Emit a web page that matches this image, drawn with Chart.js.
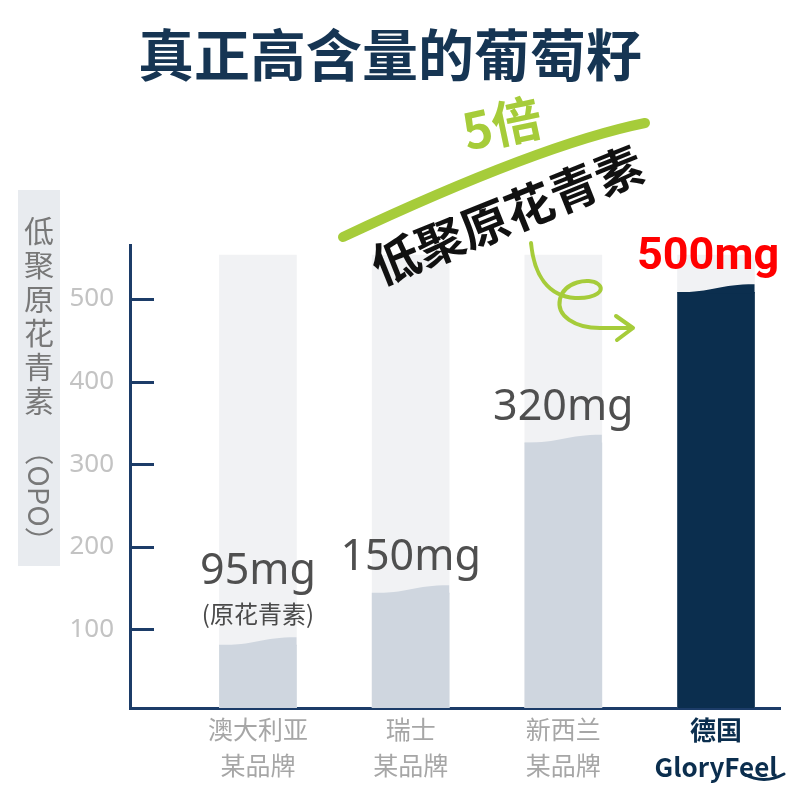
<!DOCTYPE html>
<html>
<head>
<meta charset="utf-8">
<script src="https://cdn.jsdelivr.net/npm/chart.js@4.4.1/dist/chart.umd.min.js"></script>
<style>
html, body { margin: 0; padding: 0; background: #fff; }
</style>
</head>
<body>
<canvas id="chart" width="800" height="800"></canvas>
<script>
// brands along the bottom, two lines each
const categories = [["澳大利亚", "某品牌"], ["瑞士", "某品牌"], ["新西兰", "某品牌"], ["德国", "GloryFeel"]];
// bar heights as drawn (left edge of the wavy top)
const values = [81, 144, 326, 508];
const valueLabels = ["95mg", "150mg", "320mg", "500mg"];
const subLabels = ["(原花青素)", "", "", ""];
// light grey column behind every bar
const ceiling = [553, 553, 553, 553];
const yTicks = [100, 200, 300, 400, 500];

const navy = "#0b2e4e";
const axisNavy = "#1c3c68";
const green = "#a6cc3a";
const barColors = ["#cfd6df", "#cfd6df", "#cfd6df", navy];
const cjk = "'Noto Sans CJK SC', 'Noto Sans', sans-serif";

const decor = {
    id: "decor",

    beforeDraw(chart) {
        const ctx = chart.ctx;
        ctx.save();
        ctx.fillStyle = "#fff";
        ctx.fillRect(0, 0, chart.width, chart.height);

        // vertical axis title
        ctx.fillStyle = "#e8ebef";
        ctx.fillRect(18, 190, 42, 376);
        ctx.fillStyle = "#787878";
        ctx.font = "30px " + cjk;
        ctx.textAlign = "center";
        ctx.textBaseline = "middle";
        "低聚原花青素".split("").forEach((ch, i) => {
            ctx.fillText(ch, 39, 231 + i * 34);
        });
        ctx.translate(39, 496);
        ctx.rotate(Math.PI / 2);
        ctx.font = "29px " + cjk;
        ctx.fillText("（OPO）", 0, 0);
        ctx.restore();
    },

    afterDatasetDraw(chart, args) {
        if (args.index !== 0) return;
        const ctx = chart.ctx;
        ctx.save();
        args.meta.data.forEach((el, i) => {
            const l = el.x - el.width / 2;
            const r = el.x + el.width / 2;
            const w = el.width;
            ctx.fillStyle = barColors[i];
            ctx.beginPath();
            ctx.moveTo(l, el.y + 1);
            ctx.lineTo(l, el.y);
            ctx.bezierCurveTo(l + w * 0.45, el.y, l + w * 0.55, el.y - 8, r, el.y - 8);
            ctx.lineTo(r, el.y + 1);
            ctx.closePath();
            ctx.fill();
        });
        ctx.restore();
    },

    afterDraw(chart) {
        const ctx = chart.ctx;
        const area = chart.chartArea;
        const yScale = chart.scales.y;
        ctx.save();

        // tick marks pointing into the plot
        ctx.strokeStyle = axisNavy;
        ctx.lineWidth = 3;
        yTicks.forEach(v => {
            const y = Math.round(yScale.getPixelForValue(v)) + 0.5;
            ctx.beginPath();
            ctx.moveTo(area.left, y);
            ctx.lineTo(area.left + 24, y);
            ctx.stroke();
        });

        // value labels over the bars
        const meta = chart.getDatasetMeta(0);
        ctx.textAlign = "center";
        ctx.textBaseline = "alphabetic";
        meta.data.forEach((el, i) => {
            let base = el.y - 23;
            if (subLabels[i]) {
                ctx.fillStyle = "#4a4a4a";
                ctx.font = "24px " + cjk;
                ctx.fillText(subLabels[i], el.x, base + 1);
                base -= 38;
            }
            if (i === values.length - 1) {
                ctx.fillStyle = "#ff0000";
                ctx.font = "bold 45px Roboto, 'Liberation Sans', sans-serif";
                ctx.fillText(valueLabels[i], el.x - 8, base);
            } else {
                ctx.fillStyle = "#4f4f4f";
                ctx.font = "43px 'Noto Sans', sans-serif";
                ctx.fillText(valueLabels[i], el.x, base);
            }
        });

        // green brush stroke
        ctx.strokeStyle = green;
        ctx.lineCap = "round";
        ctx.lineWidth = 10;
        ctx.beginPath();
        ctx.moveTo(343, 237);
        ctx.quadraticCurveTo(541, 144, 645, 123);
        ctx.stroke();

        // "5倍"
        ctx.save();
        ctx.translate(502, 124);
        ctx.rotate(-12 * Math.PI / 180);
        ctx.fillStyle = green;
        ctx.font = "bold 50px " + cjk;
        ctx.textAlign = "center";
        ctx.textBaseline = "middle";
        ctx.fillText("5倍", 0, 0);
        ctx.restore();

        // tilted caption
        ctx.save();
        ctx.translate(507, 215);
        ctx.rotate(Math.atan2(-94, 234));
        ctx.fillStyle = "#111";
        ctx.font = "bold 48px " + cjk;
        ctx.textAlign = "center";
        ctx.textBaseline = "middle";
        ctx.fillText("低聚原花青素", 0, 0);
        ctx.restore();

        // curly arrow
        ctx.strokeStyle = green;
        ctx.lineWidth = 4;
        ctx.lineJoin = "round";
        ctx.beginPath();
        ctx.moveTo(531, 243);
        ctx.bezierCurveTo(534, 275, 548, 296, 575, 298);
        ctx.bezierCurveTo(596, 299, 606, 290, 598, 284);
        ctx.bezierCurveTo(589, 277, 564, 282, 560, 299);
        ctx.bezierCurveTo(556, 316, 575, 328, 600, 328);
        ctx.lineTo(632, 328);
        ctx.stroke();
        ctx.beginPath();
        ctx.moveTo(616, 316);
        ctx.lineTo(633, 328);
        ctx.lineTo(617, 340);
        ctx.stroke();

        // little smile under the logo
        const x3 = chart.scales.x.getPixelForValue(3);
        ctx.strokeStyle = navy;
        ctx.lineWidth = 3;
        ctx.beginPath();
        ctx.moveTo(x3 + 28, 774);
        ctx.quadraticCurveTo(x3 + 48, 785, x3 + 68, 774);
        ctx.stroke();

        ctx.restore();
    }
};

new Chart(document.getElementById("chart"), {
    type: "bar",
    data: {
        datasets: [
            {
                data: values.map((v, i) => ({ x: i, y: v })),
                backgroundColor: barColors,
                grouped: false,
                barThickness: 77
            },
            {
                data: ceiling.map((v, i) => ({ x: i, y: v })),
                backgroundColor: "#f1f2f4",
                grouped: false,
                barThickness: 77
            }
        ]
    },
    options: {
        responsive: false,
        animation: false,
        devicePixelRatio: 1,
        layout: { padding: { left: 0, right: 20, top: 0, bottom: 0 } },
        plugins: {
            legend: { display: false },
            tooltip: { enabled: false },
            title: {
                display: true,
                text: "真正高含量的葡萄籽",
                color: "#163553",
                font: { family: cjk, size: 56, weight: "bold", lineHeight: 1.2 },
                padding: { top: 21, bottom: 157 }
            }
        },
        scales: {
            x: {
                type: "linear",
                offset: false,
                min: -0.838,
                max: 3.419,
                afterBuildTicks: s => { s.ticks = categories.map((c, i) => ({ value: i })); },
                afterFit: s => { s.height = 92; },
                grid: { display: false },
                border: { color: axisNavy, width: 3 },
                ticks: {
                    autoSkip: false,
                    maxRotation: 0,
                    padding: -5,
                    callback: v => categories[v],
                    color: c => c.index === 3 ? navy : "#a6a6a6",
                    font: c => ({
                        family: cjk,
                        size: c.index === 3 ? 26 : 25,
                        weight: c.index === 3 ? "bold" : "normal",
                        lineHeight: 1.45
                    })
                }
            },
            y: {
                min: 5,
                max: 565,
                afterBuildTicks: s => { s.ticks = yTicks.map(v => ({ value: v })); },
                afterFit: s => { s.width = 130; },
                grid: { display: false },
                border: { color: axisNavy, width: 3 },
                ticks: {
                    color: "#c3c3c3",
                    padding: 8,
                    font: { family: "'Noto Sans', sans-serif", size: 26 }
                }
            }
        }
    },
    plugins: [decor]
});
</script>
</body>
</html>
